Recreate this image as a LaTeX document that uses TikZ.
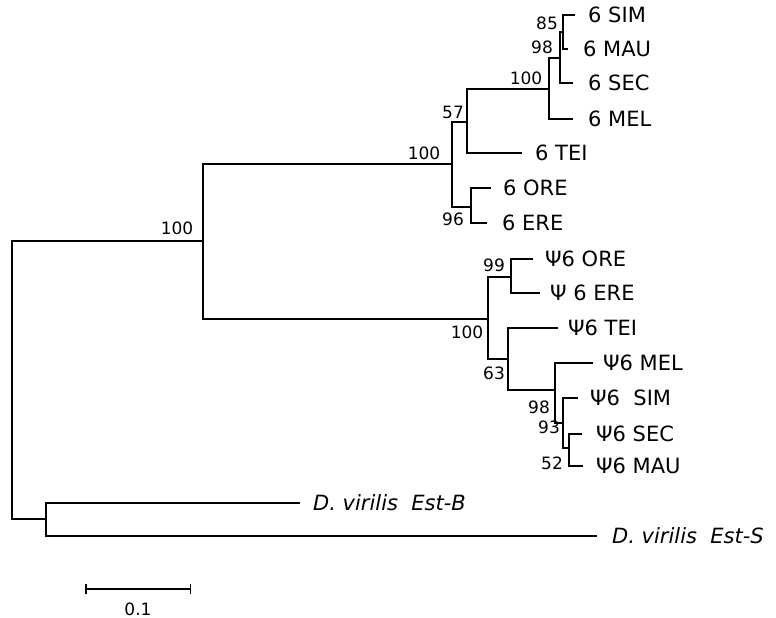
\documentclass[tikz,border=0pt]{standalone}
\usepackage{fontspec}
\setmainfont{DejaVu Sans}
\usepackage{tikz}
\usetikzlibrary{
  arrows.meta,
  positioning
}
\newcommand{\taxfont}{\fontsize{21}{25}\selectfont}
\newcommand{\bsfont}{\fontsize{17}{20}\selectfont}
\tikzset{
  %%-- branches of the tree
  branch/.style = {line width = 1.5pt, color = black},
  %%-- tip labels
  taxon/.style  = {anchor = west, inner sep = 0pt, font = \taxfont},
  outgr/.style  = {anchor = west, inner sep = 0pt, font = \taxfont\itshape},
  %%-- bootstrap values
  boot/.style   = {inner sep = 0pt, font = \bsfont},
}
\begin{document}
\begin{tikzpicture}[x = 1pt, y = -1pt]
  \useasboundingbox (0,0) rectangle (776,618);

  %%-- internal nodes
  \coordinate (root) at (12,380);
  \coordinate (ingr) at (203,241);
  \coordinate (virn) at (46,519);
  \coordinate (fA)   at (452,164);
  \coordinate (fB)   at (467,122);
  \coordinate (fC)   at (549,89);
  \coordinate (fD)   at (560,58);
  \coordinate (fE)   at (563,32);
  \coordinate (fF)   at (471,207);
  \coordinate (pA)   at (488,319);
  \coordinate (pB)   at (511,277);
  \coordinate (pC)   at (508,359);
  \coordinate (pD)   at (555,390);
  \coordinate (pE)   at (563,423);
  \coordinate (pF)   at (569,448);

  %%-- tips
  \coordinate (fSIMt) at (575,15);
  \coordinate (fMAUt) at (568,49);
  \coordinate (fSECt) at (573,83);
  \coordinate (fMELt) at (573,119);
  \coordinate (fTEIt) at (522,153);
  \coordinate (fOREt) at (491,188);
  \coordinate (fEREt) at (487,223);
  \coordinate (pOREt) at (533,259);
  \coordinate (pEREt) at (540,293);
  \coordinate (pTEIt) at (558,328);
  \coordinate (pMELt) at (593,363);
  \coordinate (pSIMt) at (578,398);
  \coordinate (pSECt) at (582,434);
  \coordinate (pMAUt) at (583,466);
  \coordinate (estBt) at (300,503);
  \coordinate (estSt) at (597,536);

  %%-- tip labels
  \node[taxon, right=13pt of fSIMt] (fSIM) {6 SIM};
  \node[taxon, right=15pt of fMAUt] (fMAU) {6 MAU};
  \node[taxon, right=15pt of fSECt] (fSEC) {6 SEC};
  \node[taxon, right=15pt of fMELt] (fMEL) {6 MEL};
  \node[taxon, right=13pt of fTEIt] (fTEI) {6 TEI};
  \node[taxon, right=12pt of fOREt] (fORE) {6 ORE};
  \node[taxon, right=15pt of fEREt] (fERE) {6 ERE};
  \node[taxon, right=12pt of pOREt] (pORE) {Ψ6 ORE};
  \node[taxon, right=10pt of pEREt] (pERE) {Ψ 6 ERE};
  \node[taxon, right=10pt of pTEIt] (pTEI) {Ψ6 TEI};
  \node[taxon, right=10pt of pMELt] (pMEL) {Ψ6 MEL};
  \node[taxon, right=12pt of pSIMt] (pSIM) {Ψ6\ \ SIM};
  \node[taxon, right=14pt of pSECt] (pSEC) {Ψ6 SEC};
  \node[taxon, right=13pt of pMAUt] (pMAU) {Ψ6 MAU};
  \node[outgr, right=13pt of estBt] (estB) {D. virilis\ \ Est-B};
  \node[outgr, right=15pt of estSt] (estS) {D. virilis\ \ Est-S};

  %%-- branches
  \draw[branch] (root) |- (ingr);
  \draw[branch] (root) |- (virn);
  \draw[branch] (ingr) |- (fA);
  \draw[branch] (ingr) |- (pA);
  \draw[branch] (fA) |- (fB);
  \draw[branch] (fA) |- (fF);
  \draw[branch] (fB) |- (fC);
  \draw[branch] (fB) |- (fTEIt);
  \draw[branch] (fC) |- (fD);
  \draw[branch] (fC) |- (fMELt);
  \draw[branch] (fD) |- (fE);
  \draw[branch] (fD) |- (fSECt);
  \draw[branch] (fE) |- (fSIMt);
  \draw[branch] (fE) |- (fMAUt);
  \draw[branch] (fF) |- (fOREt);
  \draw[branch] (fF) |- (fEREt);
  \draw[branch] (pA) |- (pB);
  \draw[branch] (pA) |- (pC);
  \draw[branch] (pB) |- (pOREt);
  \draw[branch] (pB) |- (pEREt);
  \draw[branch] (pC) |- (pTEIt);
  \draw[branch] (pC) |- (pD);
  \draw[branch] (pD) |- (pMELt);
  \draw[branch] (pD) |- (pE);
  \draw[branch] (pE) |- (pSIMt);
  \draw[branch] (pE) |- (pF);
  \draw[branch] (pF) |- (pSECt);
  \draw[branch] (pF) |- (pMAUt);
  \draw[branch] (virn) |- (estBt);
  \draw[branch] (virn) |- (estSt);

  %%-- bootstrap values
  \node[boot] (bIngr) at (177,228) {100};
  \node[boot] (bfA)   at (424,153) {100};
  \node[boot] (bfB)   at (453,112) {57};
  \node[boot] (bfC)   at (526,78)  {100};
  \node[boot] (bfD)   at (542,47)  {98};
  \node[boot] (bfE)   at (547,23)  {85};
  \node[boot] (bfF)   at (453,219) {96};
  \node[boot] (bpA)   at (467,332) {100};
  \node[boot] (bpB)   at (494,265) {99};
  \node[boot] (bpC)   at (494,373) {63};
  \node[boot] (bpD)   at (539,407) {98};
  \node[boot] (bpE)   at (549,427) {93};
  \node[boot] (bpF)   at (552,463) {52};

  %%-- scale bar
  \coordinate (sbL) at (85,589);
  \coordinate (sbR) at (191,589);
  \draw[branch, {Bar[width=10pt]}-{Bar[width=10pt]}] (sbL) -- (sbR);
  \node[boot] (sbT) at (138,609) {0.1};
\end{tikzpicture}
\end{document}
